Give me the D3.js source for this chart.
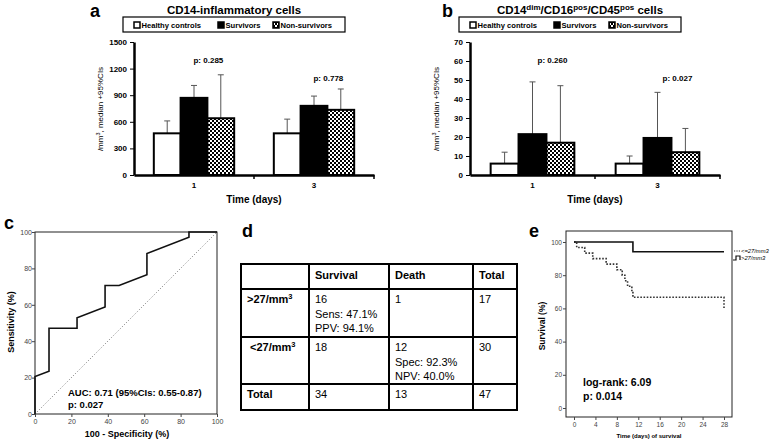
<!DOCTYPE html>
<html>
<head>
<meta charset="utf-8">
<script src="https://cdn.jsdelivr.net/npm/d3@7"></script>
<style>
body { margin: 0; background: #fff; }
svg { display: block; font-family: "Liberation Sans", Arial, sans-serif; }
</style>
</head>
<body>
<svg id="fig" width="778" height="440"></svg>
<script>
const days = ["1", "3"]
const groups = ["Healthy controls", "Survivors", "Non-survivors"]

// a: CD14-inflammatory cells (/mm3, median and upper 95% CI)
const aHealthy = [470, 470]
const aSurvivors = [870, 780]
const aNonSurvivors = [640, 735]
const aHealthyCI = [610, 630]
const aSurvivorsCI = [1010, 890]
const aNonSurvivorsCI = [1130, 970]
const aPvalues = ["p: 0.285", "p: 0.778"]
const aTicks = [0, 300, 600, 900, 1200, 1500]

// b: CD14dim/CD16pos/CD45pos cells
const bHealthy = [6, 6]
const bSurvivors = [21.5, 19.5]
const bNonSurvivors = [17, 12]
const bHealthyCI = [12, 10]
const bSurvivorsCI = [49, 43.5]
const bNonSurvivorsCI = [47, 24.5]
const bPvalues = ["p: 0.260", "p: 0.027"]
const bTicks = [0, 10, 20, 30, 40, 50, 60, 70]

// c: ROC curve
const rocFpr = [0, 0, 7.7, 7.7, 23.1, 23.1, 38.5, 38.5, 46.2, 61.5, 61.5, 84.6, 84.6, 100]
const rocTpr = [0, 20.6, 23.5, 47.1, 47.1, 52.9, 58.8, 70.6, 70.6, 76.5, 88.2, 97.1, 100, 100]
const rocTicks = [0, 20, 40, 60, 80, 100]

// d: contingency table
const tableHeader = ["", "Survival", "Death", "Total"]
const tableRowLabels = [">27/mm³", "<27/mm³", "Total"]
const tableCells = [
    [["16", "Sens: 47.1%", "PPV: 94.1%"], ["1"], ["17"]],
    [["18"], ["12", "Spec: 92.3%", "NPV: 40.0%"], ["30"]],
    [["34"], ["13"], ["47"]]
]

// e: Kaplan-Meier
const kmLowDays = [0, 0.5, 2, 3.5, 6, 8, 9, 9.5, 10, 10.8, 11, 28, 28]
const kmLowSurv = [100, 96.7, 93.3, 90, 86.7, 83.3, 80, 76.7, 73.3, 70, 66.7, 66.7, 60]
const kmHighDays = [0, 11, 28]
const kmHighSurv = [100, 94.1, 94.1]
const kmDayTicks = [0, 4, 8, 12, 16, 20, 24, 28]
const kmSurvTicks = [0, 20, 40, 60, 80, 100]

const svg = d3.select("#fig")

const defs = svg.append("defs")
const pat = defs.append("pattern")
    .attr("id", "checker")
    .attr("width", 4).attr("height", 4)
    .attr("patternUnits", "userSpaceOnUse")
pat.append("rect").attr("width", 4).attr("height", 4).attr("fill", "#fff")
pat.append("rect").attr("width", 2).attr("height", 2).attr("fill", "#000")
pat.append("rect").attr("x", 2).attr("y", 2).attr("width", 2).attr("height", 2).attr("fill", "#000")

const fills = ["#fff", "#000", "url(#checker)"]

function letter(ch, x, y) {
    svg.append("text")
        .attr("x", x).attr("y", y)
        .style("font-size", "18px")
        .style("font-weight", "bold")
        .text(ch)
}

function barPanel(cfg) {
    const g = svg.append("g")
    const x = d3.scaleBand().domain(days).range([cfg.left, cfg.left + cfg.width])
    const xs = d3.scaleBand().domain(groups).range([0, x.bandwidth()]).paddingOuter(0.74)
    const y = d3.scaleLinear().domain([0, cfg.max]).range([175, 42])

    const recs = days.flatMap((d, i) => groups.map((grp, j) => ({
        day: d, group: grp, j: j, v: cfg.medians[j][i], ci: cfg.cis[j][i]
    })))

    // error bars (upper only)
    const err = g.selectAll(".err").data(recs).enter().append("g").attr("class", "err")
    err.append("line")
        .attr("x1", d => x(d.day) + xs(d.group) + xs.bandwidth() / 2)
        .attr("x2", d => x(d.day) + xs(d.group) + xs.bandwidth() / 2)
        .attr("y1", d => y(d.v)).attr("y2", d => y(d.ci))
    err.append("line")
        .attr("x1", d => x(d.day) + xs(d.group) + xs.bandwidth() / 2 - 3)
        .attr("x2", d => x(d.day) + xs(d.group) + xs.bandwidth() / 2 + 3)
        .attr("y1", d => y(d.ci)).attr("y2", d => y(d.ci))
    err.selectAll("line").attr("stroke", "#555").attr("stroke-width", 1)

    g.selectAll(".bar").data(recs).enter().append("rect")
        .attr("class", "bar")
        .attr("x", d => x(d.day) + xs(d.group))
        .attr("y", d => y(d.v))
        .attr("width", xs.bandwidth())
        .attr("height", d => y(0) - y(d.v))
        .attr("fill", d => fills[d.j])
        .attr("stroke", "#000")
        .attr("stroke-width", 2)

    // y axis
    const ya = g.append("g")
        .attr("transform", `translate(${cfg.left},0)`)
        .call(d3.axisLeft(y).tickValues(cfg.ticks).tickFormat(d3.format("d")).tickSize(4).tickSizeOuter(0))
    ya.select(".domain").attr("stroke-width", 2.5)
    ya.selectAll("text").style("font-size", "8px").style("font-weight", "bold")

    // x axis
    const xa = g.append("g")
        .attr("transform", "translate(0,175)")
        .call(d3.axisBottom(x).tickSize(0).tickPadding(7).tickSizeOuter(0))
    xa.select(".domain").attr("stroke-width", 2.5)
    xa.selectAll("text").style("font-size", "8px").style("font-weight", "bold")
    g.selectAll(".xtick").data(days).enter().append("line")
        .attr("class", "xtick")
        .attr("x1", d => x(d) + x.bandwidth()).attr("x2", d => x(d) + x.bandwidth())
        .attr("y1", 175).attr("y2", 179)
        .attr("stroke", "#000").attr("stroke-width", 1.5)

    // p values
    const pBase = [63, 81]
    g.selectAll(".pval").data(cfg.pvals).enter().append("text")
        .attr("class", "pval")
        .attr("x", (d, i) => x(days[i]) + xs("Non-survivors") + cfg.pShift)
        .attr("y", (d, i) => pBase[i])
        .attr("text-anchor", "middle")
        .style("font-size", "8px").style("font-weight", "bold")
        .text(d => d)

    // axis titles
    g.append("text")
        .attr("transform", `translate(${cfg.left - 31},109) rotate(-90)`)
        .attr("text-anchor", "middle")
        .style("font-size", "8px")
        .html("/mm<tspan dy='-3' font-size='5.5px'>3</tspan><tspan dy='3'>, median +95%CIs</tspan>")
    g.append("text")
        .attr("x", cfg.left + cfg.width / 2).attr("y", 203)
        .attr("text-anchor", "middle")
        .style("font-size", "10px").style("font-weight", "bold")
        .text("Time (days)")

    // legend
    const lx = cfg.left - 11
    g.append("rect")
        .attr("x", lx).attr("y", 17).attr("width", 222).attr("height", 15)
        .attr("fill", "#fff").attr("stroke", "#000").attr("stroke-width", 1.2)
    const offs = [11, 95, 150]
    const li = g.selectAll(".leg").data(groups).enter().append("g")
        .attr("class", "leg")
        .attr("transform", (d, i) => `translate(${lx + offs[i]},25)`)
    li.append("rect")
        .attr("x", 0).attr("y", -3).attr("width", 6).attr("height", 6)
        .attr("fill", (d, i) => i === 2 ? "#000" : fills[i])
        .attr("stroke", "#000").attr("stroke-width", 1.5)
    li.filter((d, i) => i === 0).append("rect")
        .attr("x", 1.5).attr("y", -1.5).attr("width", 3).attr("height", 3).attr("fill", "#fff")
    li.filter((d, i) => i === 2).append("rect")
        .attr("x", 1).attr("y", -2).attr("width", 4).attr("height", 4).attr("fill", "url(#checker)")
    li.append("text")
        .attr("x", 7.5).attr("y", 3)
        .style("font-size", "7.6px").style("font-weight", "bold")
        .text(d => d)
}

// panel a
letter("a", 90, 17)
svg.append("text")
    .attr("x", 234).attr("y", 14)
    .attr("text-anchor", "middle")
    .style("font-size", "11.5px").style("font-weight", "bold")
    .text("CD14-inflammatory cells")
barPanel({
    left: 134, width: 240, max: 1500, ticks: aTicks, pShift: 1,
    medians: [aHealthy, aSurvivors, aNonSurvivors],
    cis: [aHealthyCI, aSurvivorsCI, aNonSurvivorsCI],
    pvals: aPvalues
})

// panel b
letter("b", 442, 17)
svg.append("text")
    .attr("x", 580).attr("y", 14)
    .attr("text-anchor", "middle")
    .style("font-size", "11.5px").style("font-weight", "bold")
    .html("CD14<tspan dy='-4' font-size='8px'>dim</tspan><tspan dy='4'>/CD16</tspan><tspan dy='-4' font-size='8px'>pos</tspan><tspan dy='4'>/CD45</tspan><tspan dy='-4' font-size='8px'>pos</tspan><tspan dy='4'> cells</tspan>")
barPanel({
    left: 470, width: 250, max: 70, ticks: bTicks, pShift: 6,
    medians: [bHealthy, bSurvivors, bNonSurvivors],
    cis: [bHealthyCI, bSurvivorsCI, bNonSurvivorsCI],
    pvals: bPvalues
})

// panel c: ROC
letter("c", 4, 229)
const cx = d3.scaleLinear().domain([0, 100]).range([35, 217])
const cy = d3.scaleLinear().domain([0, 100]).range([414, 232])
const cg = svg.append("g")
cg.append("rect")
    .attr("x", 35).attr("y", 232).attr("width", 182).attr("height", 182)
    .attr("fill", "none").attr("stroke", "#222").attr("stroke-width", 1)
const cya = cg.append("g").attr("transform", "translate(35,0)")
    .call(d3.axisLeft(cy).tickValues(rocTicks).tickSize(3).tickSizeOuter(0))
const cxa = cg.append("g").attr("transform", "translate(0,414)")
    .call(d3.axisBottom(cx).tickValues(rocTicks).tickSize(3).tickSizeOuter(0).tickPadding(2))
;[cya, cxa].forEach(a => {
    a.select(".domain").remove()
    a.selectAll("text").style("font-size", "7px").attr("fill", "#444")
    a.selectAll("line").attr("stroke", "#444")
})
cya.selectAll("text").attr("x", -3)
cg.append("line")
    .attr("x1", cx(0)).attr("y1", cy(0)).attr("x2", cx(100)).attr("y2", cy(100))
    .attr("stroke", "#777").attr("stroke-width", 1).attr("stroke-dasharray", "1,2")
cg.append("path")
    .datum(rocFpr.map((f, i) => [f, rocTpr[i]]))
    .attr("d", d3.line().x(d => cx(d[0])).y(d => cy(d[1])))
    .attr("fill", "none").attr("stroke", "#111").attr("stroke-width", 1.6)
cg.append("text")
    .attr("transform", "translate(14,322) rotate(-90)")
    .attr("text-anchor", "middle")
    .style("font-size", "9px").style("font-weight", "bold")
    .text("Sensitivity (%)")
cg.append("text")
    .attr("x", 127).attr("y", 437)
    .attr("text-anchor", "middle")
    .style("font-size", "9px").style("font-weight", "bold")
    .text("100 - Specificity (%)")
cg.append("text")
    .attr("x", 68).attr("y", 396)
    .style("font-size", "9.5px").style("font-weight", "bold")
    .text("AUC: 0.71 (95%CIs: 0.55-0.87)")
cg.append("text")
    .attr("x", 68).attr("y", 408)
    .style("font-size", "9.5px").style("font-weight", "bold")
    .text("p: 0.027")

// panel d: table
letter("d", 242, 237)
const colX = [241, 309, 389, 473, 517]
const rowY = [264, 289, 337, 384, 410]
const dg = svg.append("g")
dg.selectAll(".hl").data(rowY).enter().append("line")
    .attr("x1", colX[0]).attr("x2", colX[4])
    .attr("y1", d => d).attr("y2", d => d)
    .attr("stroke", "#000").attr("stroke-width", 2)
dg.selectAll(".vl").data(colX).enter().append("line")
    .attr("x1", d => d).attr("x2", d => d)
    .attr("y1", rowY[0] - 1).attr("y2", rowY[4] + 1)
    .attr("stroke", "#000").attr("stroke-width", 2)
dg.selectAll(".hd").data(tableHeader).enter().append("text")
    .attr("x", (d, i) => colX[i] + 6).attr("y", 279)
    .style("font-size", "11px").style("font-weight", "bold")
    .text(d => d)
dg.selectAll(".rl").data(tableRowLabels).enter().append("text")
    .attr("x", (d, i) => colX[0] + (i === 1 ? 9 : 6))
    .attr("y", (d, i) => rowY[i + 1] + 14)
    .style("font-size", "11px").style("font-weight", "bold")
    .html(d => d.replace("³", "<tspan dy='-4' font-size='7.5px'>3</tspan>"))
tableCells.forEach((row, r) => {
    row.forEach((lines, c) => {
        dg.append("text")
            .attr("x", colX[c + 1] + 6)
            .attr("y", rowY[r + 1] + 14)
            .style("font-size", "11px")
            .selectAll("tspan").data(lines).enter().append("tspan")
            .attr("x", colX[c + 1] + 6)
            .attr("dy", (d, i) => i === 0 ? 0 : 14.5)
            .text(d => d)
    })
})

// panel e: Kaplan-Meier
letter("e", 529, 237)
const ex = d3.scaleLinear().domain([0, 28]).range([574, 724])
const ey = d3.scaleLinear().domain([0, 100]).range([408, 242])
const eg = svg.append("g")
eg.append("rect")
    .attr("x", 566).attr("y", 231).attr("width", 166).attr("height", 186)
    .attr("fill", "none").attr("stroke", "#222").attr("stroke-width", 1)
const eya = eg.append("g").attr("transform", "translate(566,0)")
    .call(d3.axisLeft(ey).tickValues(kmSurvTicks).tickSize(3).tickSizeOuter(0).tickPadding(1))
const exa = eg.append("g").attr("transform", "translate(0,417)")
    .call(d3.axisBottom(ex).tickValues(kmDayTicks).tickSize(3).tickSizeOuter(0).tickPadding(2))
;[eya, exa].forEach(a => {
    a.select(".domain").remove()
    a.selectAll("text").style("font-size", "6.5px").attr("fill", "#444")
    a.selectAll("line").attr("stroke", "#444")
})
const kmLine = d3.line().curve(d3.curveStepAfter).x(d => ex(d[0])).y(d => ey(d[1]))
eg.append("path")
    .datum(kmLowDays.map((t, i) => [t, kmLowSurv[i]]))
    .attr("d", kmLine)
    .attr("fill", "none").attr("stroke", "#333").attr("stroke-width", 1.6)
    .attr("stroke-dasharray", "1.6,1.6")
eg.append("path")
    .datum(kmHighDays.map((t, i) => [t, kmHighSurv[i]]))
    .attr("d", kmLine)
    .attr("fill", "none").attr("stroke", "#111").attr("stroke-width", 1.6)
eg.append("text")
    .attr("transform", "translate(545,326) rotate(-90)")
    .attr("text-anchor", "middle")
    .style("font-size", "8.5px").style("font-weight", "bold")
    .text("Survival (%)")
eg.append("text")
    .attr("x", 649).attr("y", 438)
    .attr("text-anchor", "middle")
    .style("font-size", "6px").style("font-weight", "bold")
    .text("Time (days) of survival")
eg.append("text")
    .attr("x", 583).attr("y", 386)
    .style("font-size", "10.5px").style("font-weight", "bold")
    .text("log-rank: 6.09")
eg.append("text")
    .attr("x", 583).attr("y", 400)
    .style("font-size", "10.5px").style("font-weight", "bold")
    .text("p: 0.014")
// legend
eg.append("path")
    .attr("d", "M734,251 H740")
    .attr("stroke", "#333").attr("stroke-width", 1.2).attr("stroke-dasharray", "1.2,1.2")
eg.append("text")
    .attr("x", 741).attr("y", 253)
    .style("font-size", "5.8px").style("font-style", "italic")
    .text("<=27/mm3")
eg.append("path")
    .attr("d", "M733,260 H736 V256 H740 V260")
    .attr("fill", "none").attr("stroke", "#111").attr("stroke-width", 1.2)
eg.append("text")
    .attr("x", 741).attr("y", 260)
    .style("font-size", "5.8px").style("font-style", "italic")
    .text(">27/mm3")
</script>
</body>
</html>
